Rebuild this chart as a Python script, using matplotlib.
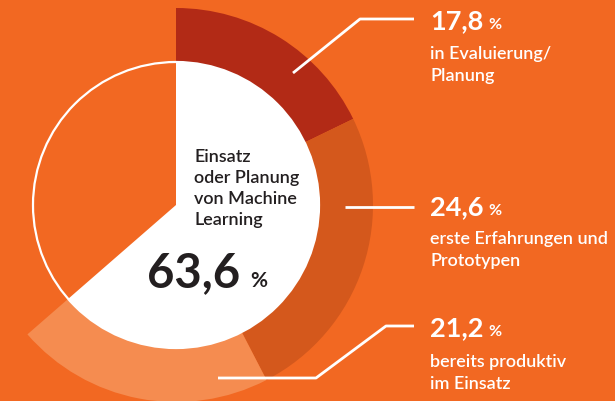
import matplotlib
matplotlib.use("Agg")
import matplotlib.pyplot as plt
from matplotlib.patches import Circle

# ---- data ----
ring_values = [17.8, 24.6, 21.2]          # outer ring segments (%)
ring_labels = ["in Evaluierung/\nPlanung",
               "erste Erfahrungen und\nPrototypen",
               "bereits produktiv\nim Einsatz"]
total_value = 63.6
center_label = ["Einsatz", "oder Planung", "von Machine", "Learning"]

def fmt(v):
    return f"{v:.1f}".replace(".", ",")

# ---- style ----
BG = "#F26822"
RING_COLORS = ["#B22A16", "#D4581C", "#F58C50"]
DARK = "#231F20"
FONT = "Lato"

W, H = 615, 401
fig = plt.figure(figsize=(W / 100, H / 100), dpi=100)
fig.patch.set_facecolor(BG)
ax = fig.add_axes([0, 0, 1, 1])
ax.set_facecolor(BG)
ax.set_xlim(0, W)
ax.set_ylim(0, H)
ax.set_aspect("equal")
ax.axis("off")

def Y(py):
    return H - py

cx, cy = 176, Y(205)
r_in, r_out = 143, 197

rest = 100 - sum(ring_values)
ax.pie(ring_values + [rest], colors=RING_COLORS + ["none"], startangle=90,
       counterclock=False, radius=r_out, center=(cx, cy),
       wedgeprops=dict(width=r_out - r_in, linewidth=0), frame=True)
ax.pie([total_value, 100 - total_value], colors=["white", "none"], startangle=90,
       counterclock=False, radius=r_in, center=(cx, cy),
       wedgeprops=dict(linewidth=0), frame=True)
ax.add_patch(Circle((cx, cy), r_in, fill=False, edgecolor="white", linewidth=1.6))
ax.set_xlim(0, W)
ax.set_ylim(0, H)
ax.axis("off")

# leader lines (layout)
lw = 2.0
ax.plot([293, 360, 414], [Y(73), Y(19), Y(19)], color="white", lw=lw, solid_capstyle="butt")
ax.plot([345, 414], [Y(207), Y(207)], color="white", lw=lw, solid_capstyle="butt")
ax.plot([218, 316, 386, 414], [Y(378), Y(378), Y(326), Y(326)], color="white", lw=lw,
        solid_capstyle="butt")

fig.canvas.draw()
renderer = fig.canvas.get_renderer()

def num_with_pct(x, base, value, size, psize, color, gap):
    t = ax.text(x, Y(base), fmt(value), fontsize=size, fontweight="bold", color=color,
                family=FONT, va="baseline", ha="left")
    bb = t.get_window_extent(renderer=renderer)
    ax.text(bb.x1 + gap, Y(base), "%", fontsize=psize, fontweight="bold", color=color,
            family=FONT, va="baseline", ha="left")

label_x = 430
num_base = [29, 215, 336]
txt_base = [59, 244, 367]
for v, lab, nb, tb in zip(ring_values, ring_labels, num_base, txt_base):
    num_with_pct(label_x, nb, v, 19.5, 11.5, "white", 5)
    for i, line in enumerate(lab.split("\n")):
        ax.text(label_x, Y(tb + 22 * i), line, fontsize=13, color="white", family=FONT,
                fontweight="semibold", va="baseline", ha="left")

for i, line in enumerate(center_label):
    ax.text(194, Y(162 + 21 * i), line, fontsize=13, color=DARK, family=FONT,
            fontweight="semibold", va="baseline", ha="left")
num_with_pct(147, 287, total_value, 34, 15, DARK, 10)

fig.savefig("out.png", dpi=100, facecolor=BG)
